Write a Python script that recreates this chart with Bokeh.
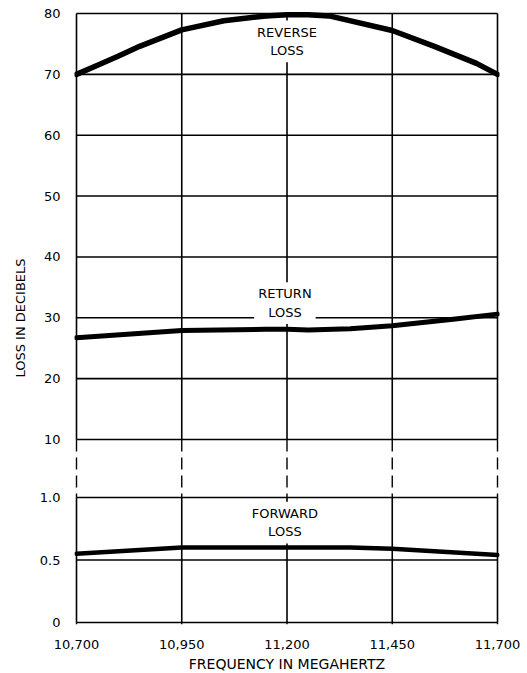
import math
from bokeh.plotting import figure
from bokeh.models import Range1d, FixedTicker, NumeralTickFormatter, Label
from bokeh.embed import file_html
from bokeh.resources import INLINE

# ---------------- data ----------------
freq_ticks = [10700, 10950, 11200, 11450, 11700]
upper_ticks = [10, 20, 30, 40, 50, 60, 70, 80]
lower_ticks = [0, 0.5, 1.0]
lower_tick_labels = ["0", "0.5", "1.0"]

reverse_freq = [10700, 10750, 10800, 10850, 10950, 11050, 11150, 11200, 11250, 11300, 11450, 11550, 11600, 11650, 11700]
reverse_loss = [70.0, 71.5, 73.0, 74.6, 77.3, 78.8, 79.6, 79.8, 79.8, 79.6, 77.2, 74.6, 73.2, 71.8, 70.0]

return_freq = [10700, 10950, 11150, 11200, 11250, 11350, 11450, 11600, 11700]
return_loss = [26.7, 27.9, 28.1, 28.1, 28.0, 28.2, 28.7, 29.8, 30.6]

forward_freq = [10700, 10950, 11200, 11350, 11450, 11700]
forward_loss = [0.55, 0.60, 0.60, 0.60, 0.59, 0.54]

# ---------------- layout (pixels) ----------------
X0_PX, X1_PX = 76, 497          # screen x of first / last frequency tick
Y80_PX, Y10_PX = 13, 439        # upper panel top / bottom
Y1_PX, Y0_PX = 497, 622         # lower panel top / bottom
PAD = 2
FONT = "DejaVu Sans"

px_per_mhz = (X1_PX - X0_PX) / (freq_ticks[-1] - freq_ticks[0])
x_lo = freq_ticks[0] - PAD / px_per_mhz
x_hi = freq_ticks[-1] + PAD / px_per_mhz
frame_w = (X1_PX - X0_PX) + 2 * PAD
frame_top = Y80_PX - PAD
frame_bot = Y0_PX + PAD
frame_h = frame_bot - frame_top

up_ppu = (Y10_PX - Y80_PX) / (upper_ticks[-1] - upper_ticks[0])
main_top = upper_ticks[-1] + PAD / up_ppu
main_bot = upper_ticks[0] - (frame_bot - Y10_PX) / up_ppu
lo_ppu = (Y0_PX - Y1_PX) / (lower_ticks[-1] - lower_ticks[0])
low_bot = lower_ticks[0] - PAD / lo_ppu
low_top = lower_ticks[-1] + (Y1_PX - frame_top) / lo_ppu


def low_to_main(v):
    return main_bot + (v - low_bot) * (main_top - main_bot) / (low_top - low_bot)


p = figure(width=527, height=673, output_backend="svg", toolbar_location=None,
           x_range=Range1d(x_lo, x_hi), y_range=Range1d(main_bot, main_top),
           frame_width=frame_w, frame_height=frame_h,
           min_border_left=X0_PX - PAD, min_border_right=527 - (X0_PX - PAD) - frame_w,
           min_border_top=frame_top, min_border_bottom=673 - frame_bot)
p.extra_y_ranges = {"low": Range1d(low_bot, low_top)}
p.outline_line_color = None
p.xgrid.visible = False
p.ygrid.visible = False
p.background_fill_color = "white"
p.border_fill_color = "white"

LW_GRID = 1.6
n = len(freq_ticks)
# break region dashed verticals (main coords from 10 down to frame bottom)
p.segment(x0=freq_ticks, x1=freq_ticks, y0=[upper_ticks[0]] * n, y1=[main_bot] * n,
          line_color="black", line_width=1.4, line_dash="12 6")
# lower panel: white cover then grid
p.quad(left=[x_lo], right=[x_hi], bottom=[lower_ticks[0]], top=[lower_ticks[-1]],
       y_range_name="low", fill_color="white", line_color=None)
p.segment(x0=freq_ticks, x1=freq_ticks, y0=[lower_ticks[0]] * n, y1=[lower_ticks[-1]] * n,
          y_range_name="low", line_color="black", line_width=LW_GRID)
p.segment(x0=[freq_ticks[0]] * len(lower_ticks), x1=[freq_ticks[-1]] * len(lower_ticks),
          y0=lower_ticks, y1=lower_ticks,
          y_range_name="low", line_color="black", line_width=LW_GRID)
# upper panel grid
p.segment(x0=freq_ticks, x1=freq_ticks, y0=[upper_ticks[0]] * n, y1=[upper_ticks[-1]] * n,
          line_color="black", line_width=LW_GRID)
p.segment(x0=[freq_ticks[0]] * len(upper_ticks), x1=[freq_ticks[-1]] * len(upper_ticks),
          y0=upper_ticks, y1=upper_ticks, line_color="black", line_width=LW_GRID)

# curves
p.line(reverse_freq, reverse_loss, line_color="black", line_width=5.5,
       line_cap="round", line_join="round")
p.line(return_freq, return_loss, line_color="black", line_width=5,
       line_cap="round", line_join="round")
p.line(forward_freq, forward_loss, y_range_name="low", line_color="black",
       line_width=4.5, line_cap="round", line_join="round")

# curve labels
lab_kw = dict(text_align="center", text_baseline="middle", text_font=FONT,
              text_font_size="13px", text_color="black",
              background_fill_color="white", text_line_height=1.25, padding=4)
p.add_layout(Label(x=11200, y=75.4, text="REVERSE\nLOSS", **lab_kw))
p.add_layout(Label(x=11195, y=32.4, text="RETURN\nLOSS", **lab_kw))
p.add_layout(Label(x=11195, y=0.80, y_range_name="low", text="FORWARD\nLOSS", **lab_kw))

# axes
xa = p.xaxis[0]
xa.ticker = FixedTicker(ticks=freq_ticks)
xa.formatter = NumeralTickFormatter(format="0,0")
xa.axis_label = "FREQUENCY IN MEGAHERTZ"

ya = p.yaxis[0]
low_positions = [low_to_main(v) for v in lower_ticks]
ya.ticker = FixedTicker(ticks=low_positions + upper_ticks)
overrides = {pos: lab for pos, lab in zip(low_positions, lower_tick_labels)}
for t in upper_ticks:
    overrides[t] = str(t)
ya.major_label_overrides = overrides
ya.axis_label = "LOSS IN DECIBELS"

for ax in (xa, ya):
    ax.axis_line_color = None
    ax.major_tick_line_color = None
    ax.minor_tick_line_color = None
    ax.major_label_text_font = FONT
    ax.major_label_text_font_size = "13px"
    ax.major_label_text_color = "black"
    ax.axis_label_text_font = FONT
    ax.axis_label_text_font_style = "normal"
    ax.axis_label_text_color = "black"
xa.major_label_standoff = 9
xa.axis_label_standoff = 4
xa.axis_label_text_font_size = "14px"
ya.major_label_standoff = 8
ya.axis_label_standoff = 9
ya.axis_label_text_font_size = "13px"

open("out.html", "w").write(file_html(p, INLINE))
